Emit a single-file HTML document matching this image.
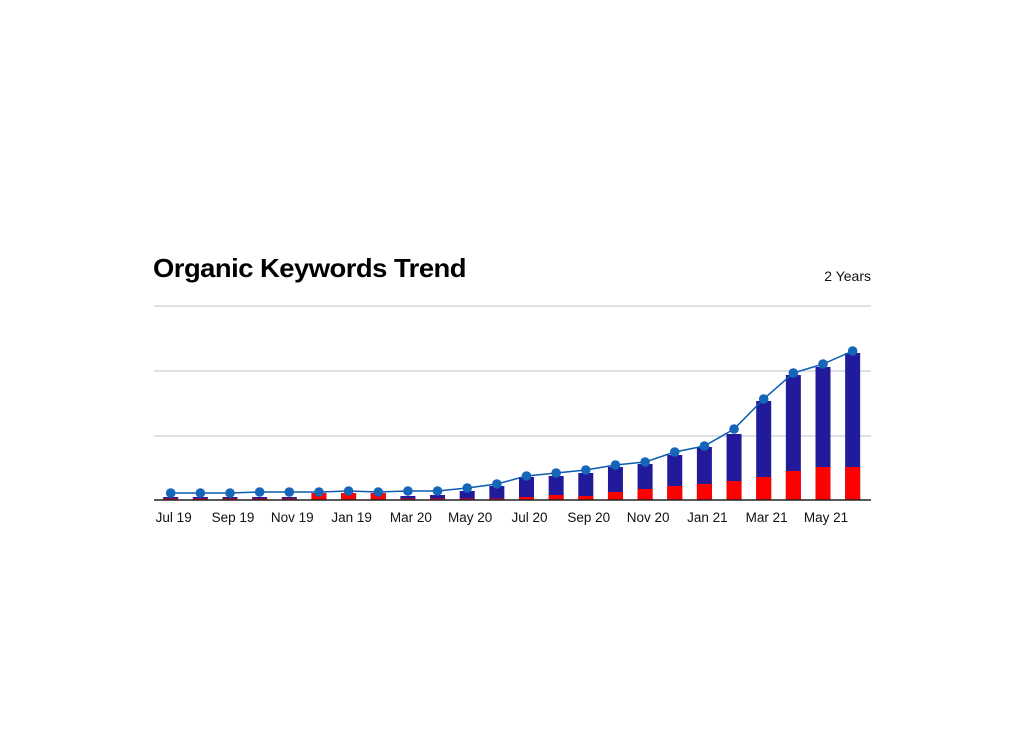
<!DOCTYPE html>
<html><head><meta charset="utf-8"><style>
html,body{margin:0;padding:0;background:#fff;width:1024px;height:750px;overflow:hidden}
svg{display:block}
text{font-family:"Liberation Sans",Arial,sans-serif}
</style></head><body>
<svg width="1024" height="750" viewBox="0 0 1024 750" xmlns="http://www.w3.org/2000/svg">
<text x="153" y="277" font-size="26" font-weight="bold" fill="#000" textLength="313" lengthAdjust="spacingAndGlyphs" letter-spacing="-0.5">Organic Keywords Trend</text>
<text x="871" y="281" font-size="14" fill="#111" text-anchor="end">2 Years</text>
<g stroke="#c9ced9" stroke-width="1.3">
<line x1="154" y1="306" x2="871" y2="306"/>
<line x1="154" y1="371" x2="871" y2="371"/>
<line x1="154" y1="436" x2="871" y2="436"/>
</g>
<g id="bars"></g>
<line x1="154" y1="500" x2="871" y2="500" stroke="#222" stroke-width="1.6"/>
<polyline id="ln" fill="none" stroke="#0b5bb0" stroke-width="1.5"/>
<g id="pts" fill="#1565b8"></g>
<g font-size="13.5" fill="#111" text-anchor="middle" id="lbl"></g>
</svg>
<script>
var tops=[497,497,497,497,497,493,493,493,496,495,491,486,477,476,473,467,464,455,447,434,401,375,367,353];
var reds=[498.5,498.5,498.5,498.5,498.5,493,493,493,498.5,498.5,498.5,498.5,497,495,496,492,489,486,484,481,477,471,467,467];
var pts=[493,493,493,492,492,492,491,492,491,491,488,484,476,473,470,465,462,452,446,429,399,373,364,351];
var labels=["Jul 19","Sep 19","Nov 19","Jan 19","Mar 20","May 20","Jul 20","Sep 20","Nov 20","Jan 21","Mar 21","May 21"];
var ns="http://www.w3.org/2000/svg",b=document.getElementById("bars"),p=document.getElementById("pts"),l=document.getElementById("lbl");
var poly=[];
for(var i=0;i<24;i++){
 var cx=170.7+i*29.65;
 var r=document.createElementNS(ns,"rect");r.setAttribute("x",cx-7.5);r.setAttribute("width",15);r.setAttribute("y",tops[i]);r.setAttribute("height",500-tops[i]);r.setAttribute("fill","#211a9a");b.appendChild(r);
 r=document.createElementNS(ns,"rect");r.setAttribute("x",cx-7.5);r.setAttribute("width",15);r.setAttribute("y",reds[i]);r.setAttribute("height",500-reds[i]);r.setAttribute("fill","#ff0000");b.appendChild(r);
 poly.push(cx+","+pts[i]);
 var c=document.createElementNS(ns,"circle");c.setAttribute("cx",cx);c.setAttribute("cy",pts[i]);c.setAttribute("r",4.8);p.appendChild(c);
 if(i%2==0){var t=document.createElementNS(ns,"text");t.setAttribute("x",cx+3);t.setAttribute("y",522);t.textContent=labels[i/2];l.appendChild(t);}
}
document.getElementById("ln").setAttribute("points",poly.join(" "));
</script>
</body></html>
